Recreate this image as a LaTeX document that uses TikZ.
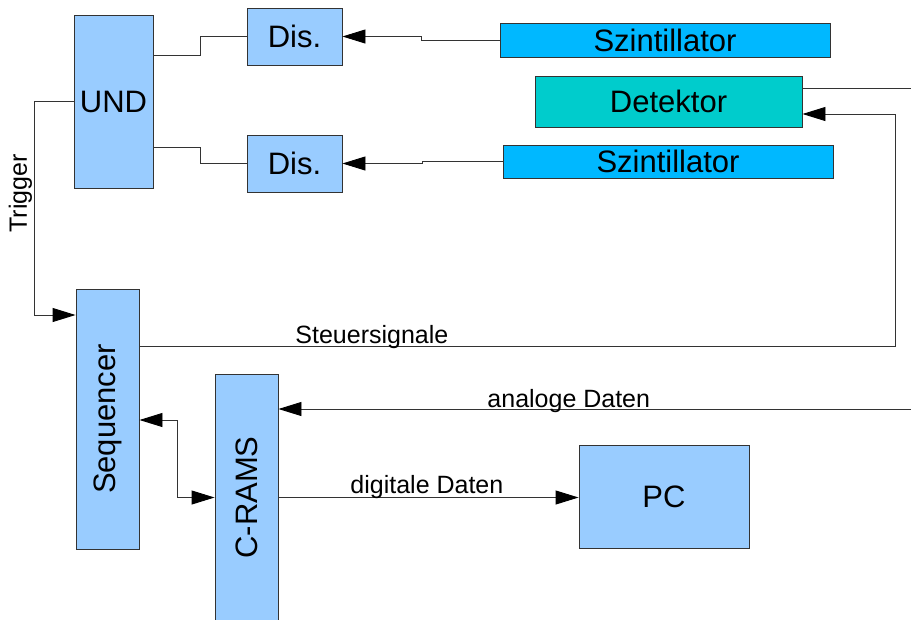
\documentclass[tikz,border=0pt]{standalone}
\usepackage{graphicx}
\usepackage{fontspec}
\setmainfont{Liberation Sans}
\usetikzlibrary{arrows.meta,positioning}
\definecolor{boxblue}{HTML}{99CCFF}
\definecolor{szblue}{HTML}{00B8FF}
\definecolor{detcyan}{HTML}{00CCCC}
\definecolor{linegray}{HTML}{333333}
\begin{document}
\begin{tikzpicture}[x=1pt,y=-1pt,line width=0.9pt,
  >={Triangle[length=23pt,width=14pt,color=black]},
  blk/.style={draw=linegray,fill=boxblue,inner sep=0pt,font=\fontsize{31}{37}\selectfont},
  wire/.style={draw=linegray},
  lbl/.style={font=\fontsize{25}{30}\selectfont,inner sep=0pt}]
\useasboundingbox (0,0) rectangle (911,619);
% boxes
\node[blk,minimum width=79,minimum height=173] (und) at (113.5,101.5) {UND};
\node[blk,minimum width=95,minimum height=57] (dis1) at (294.5,36.5) {Dis.};
\node[blk,minimum width=95,minimum height=57] (dis2) at (294.5,163.5) {Dis.};
\node[blk,fill=szblue,minimum width=330,minimum height=34] (szin1) at (665,40) {Szintillator};
\node[blk,fill=szblue,minimum width=330,minimum height=33] (szin2) at (668,161.5) {Szintillator};
\node[blk,fill=detcyan,minimum width=267,minimum height=51] (det) at (668.5,101.5) {Detektor};
\node[blk,minimum width=63,minimum height=260] (seq) at (107.5,419) {\rotatebox{90}{Sequencer}};
\node[blk,minimum width=63,minimum height=247] (crams) at (246.5,497.5) {\rotatebox{90}{C-RAMS}};
\node[blk,minimum width=170,minimum height=103] (pc) at (664,496.5) {PC};
\coordinate (detr) at (911,88);
\coordinate (anain) at (911,409);
% connections
\draw[wire] ([yshift=46pt]und.east) -- ++(47,0) |- (dis1.west);
\draw[wire] ([yshift=-45.5pt]und.east) -- ++(47,0) |- (dis2.west);
\draw[wire,->] (szin1.west) -- ++(-78,0) |- (dis1.east);
\draw[wire,->] (szin2.west) -- ++(-80,0) |- (dis2.east);
\draw[wire] ([yshift=13.5pt]det.east) -- (detr);
\draw[wire,->] (und.west) -- ++(-39,0) |- ([yshift=104pt]seq.west);
\draw[wire,->] ([yshift=73pt]seq.east) -- ++(756,0) |- ([yshift=-12.5pt]det.east);
\draw[wire,<->] ([yshift=-1pt]seq.east) -- ++(38,0) |- (crams.west);
\draw[wire,->] (anain) -- (anain -| crams.east);
\draw[wire,->] (crams.east) -- (crams.east -| pc.west);
% labels
\node[lbl,rotate=90,anchor=base west] (trig) at (27,233) {Trigger};
\node[lbl,anchor=base west] (steuer) at (295,343) {Steuersignale};
\node[lbl,anchor=base west] (analog) at (487,407) {analoge Daten};
\node[lbl,anchor=base west] (digital) at (350,493) {digitale Daten};
\end{tikzpicture}
\end{document}
